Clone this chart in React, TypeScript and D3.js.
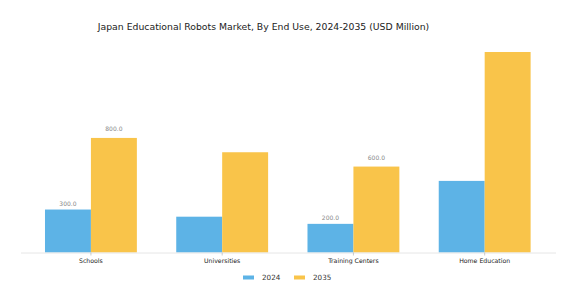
import React from "react";
import * as d3 from "d3";

const categories = ["Schools", "Universities", "Training Centers", "Home Education"];
const seriesKeys = ["2024", "2035"];
const values2024 = [300, 250, 200, 500];
const values2035 = [800, 700, 600, 1400];
const labels2024 = ["300.0", "", "200.0", ""];
const labels2035 = ["800.0", "", "600.0", ""];
const colors = ["#5DB3E6", "#F9C44A"];
const title = "Japan Educational Robots Market, By End Use, 2024-2035 (USD Million)";

const W = 570;
const H = 304;
const FONT = "DejaVu Sans, sans-serif";

export default function App() {
  const x0 = d3.scaleBand<string>().domain(categories).range([25.3, 550.3]).paddingInner(0.3).paddingOuter(0.15);
  const x1 = d3.scaleBand<string>().domain(seriesKeys).range([0, x0.bandwidth()]);
  const y = d3.scaleLinear().domain([0, 1400]).range([252.5, 52]);
  const series = [values2024, values2035];
  const labels = [labels2024, labels2035];
  const labelOffsets = [3.5, 6.5];

  return (
    <svg width={W} height={H} style={{ position: "absolute", left: 0, top: 0 }}>
      <rect width={W} height={H} fill="#fff" />
      <text x={263.5} y={29.5} textAnchor="middle" fontFamily={FONT} fontSize={9.3} fill="#222">
        {title}
      </text>
      {categories.map((c, i) => (
        <g key={c}>
          {series.map((vals, s) => {
            const bx = (x0(c) as number) + (x1(seriesKeys[s]) as number);
            const by = y(vals[i]);
            return (
              <g key={s}>
                <rect x={bx} y={by} width={x1.bandwidth()} height={y(0) - by} fill={colors[s]} />
                {labels[s][i] && (
                  <text
                    x={bx + x1.bandwidth() / 2}
                    y={by - labelOffsets[s]}
                    textAnchor="middle"
                    fontFamily={FONT}
                    fontSize={6}
                    fill="#888"
                  >
                    {labels[s][i]}
                  </text>
                )}
              </g>
            );
          })}
        </g>
      ))}
      <line x1={21} x2={556} y1={y(0) + 0.5} y2={y(0) + 0.5} stroke="#e6e6e6" strokeWidth={1} />
      {categories.map((c) => {
        const cx = (x0(c) as number) + x0.bandwidth() / 2;
        return (
          <g key={c}>
            <line x1={cx} x2={cx} y1={y(0)} y2={y(0) + 3} stroke="#aaa" strokeWidth={0.6} />
            <text x={cx} y={262.5} textAnchor="middle" fontFamily={FONT} fontSize={6.2} fill="#222">
              {c}
            </text>
          </g>
        );
      })}
      {seriesKeys.map((k, s) => {
        const lx = 243 + s * 51;
        return (
          <g key={k}>
            <rect x={lx} y={275.5} width={11} height={4} fill={colors[s]} />
            <text x={lx + 19} y={280} fontFamily={FONT} fontSize={7.2} fill="#333">
              {k}
            </text>
          </g>
        );
      })}
    </svg>
  );
}
